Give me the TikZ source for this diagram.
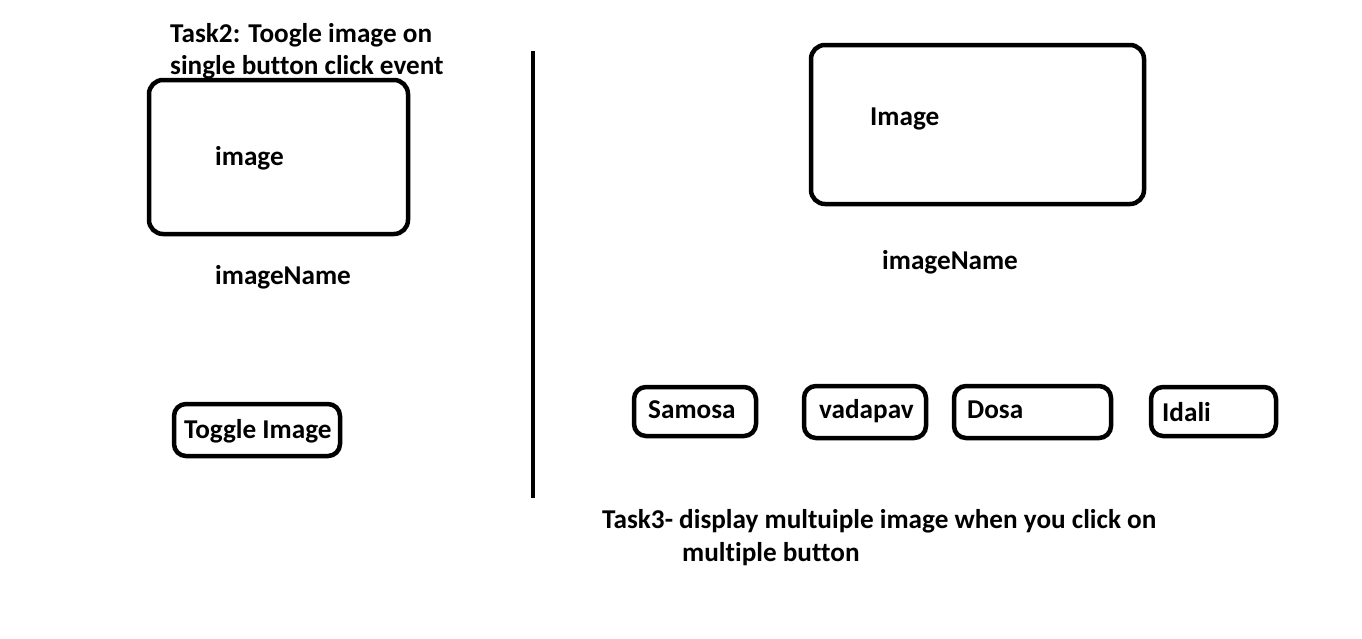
\documentclass[tikz,border=0pt]{standalone}
\usepackage{fontspec}
\setmainfont[Ligatures=NoCommon]{Carlito}
\begin{document}
\begin{tikzpicture}[x=1pt,y=-1pt,
  lbl/.style={anchor=base west,inner sep=0pt,font=\fontsize{27.2}{33}\selectfont\bfseries},
  frame/.style={draw,line width=4.5pt,rounded corners=14pt},
  btn/.style={draw,line width=4.5pt,rounded corners=12pt}]
\useasboundingbox[fill=white] (0,0) rectangle (1362,638);
% left panel
\node[lbl] (t2a) at (170,42) {Task2: Toogle image on};
\node[lbl] (t2b) at (170,74) {single button click event};
\draw[frame] (149,80) rectangle (408,234);
\node[lbl] (img1) at (215,165) {image};
\node[lbl] (nm1) at (215,284) {imageName};
\draw[btn] (174,404) rectangle (340,456);
\node[lbl] (tog) at (184,438) {Toggle Image};
% divider
\coordinate (d1) at (533,51);
\coordinate (d2) at (533,498);
\draw[line width=4.5pt] (d1) -- (d2);
% right panel
\draw[frame] (811,45) rectangle (1144,204);
\node[lbl] (img2) at (870,125) {Image};
\node[lbl] (nm2) at (882,269) {imageName};
\draw[btn] (634,387) rectangle (756,436);
\node[lbl] (sam) at (648,418) {Samosa};
\draw[btn] (804,386) rectangle (926,438);
\node[lbl] (vad) at (819,418) {vadapav};
\draw[btn] (954,386) rectangle (1111,438);
\node[lbl] (dos) at (967,418) {Dosa};
\draw[btn] (1151,387) rectangle (1276,436);
\node[lbl] (ida) at (1162,421) {Idali};
\node[lbl] (t3a) at (602,528) {Task3- display multuiple image when you click on};
\node[lbl] (t3b) at (682,561) {multiple button};
\end{tikzpicture}
\end{document}
